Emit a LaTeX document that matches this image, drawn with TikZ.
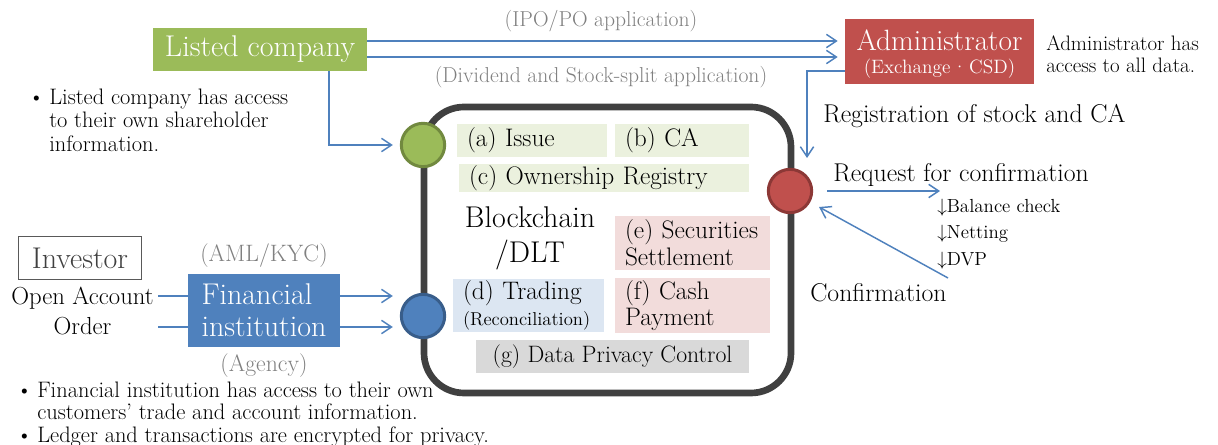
\documentclass[tikz,border=0pt]{standalone}
\usepackage{fontspec}
\usetikzlibrary{arrows.meta}
\definecolor{cgreen}{HTML}{9BBB59}
\definecolor{cgreenD}{HTML}{71893F}
\definecolor{cred}{HTML}{C0504D}
\definecolor{credD}{HTML}{8C3836}
\definecolor{cblue}{HTML}{4F81BD}
\definecolor{cblueD}{HTML}{385D8A}
\definecolor{lgreen}{HTML}{EBF1DE}
\definecolor{lred}{HTML}{F2DCDB}
\definecolor{lblue}{HTML}{DCE6F2}
\definecolor{lgray}{HTML}{D9D9D9}
\definecolor{tgray}{HTML}{808080}
\definecolor{dgray}{HTML}{404040}
\definecolor{bgray}{HTML}{595959}
\newcommand\myBig{\fontsize{22.5}{26}\selectfont}
\newcommand\myFin{\fontsize{22.5}{24}\selectfont}
\newcommand\myAdm{\fontsize{22}{24}\selectfont}
\newcommand\myAdmSub{\fontsize{14.5}{17}\selectfont}
\newcommand\myGray{\fontsize{16.2}{19}\selectfont}
\newcommand\myAg{\fontsize{17.8}{20}\selectfont}
\newcommand\myNote{\fontsize{15.7}{16.5}\selectfont}
\newcommand\myBul{\fontsize{16.8}{17.6}\selectfont}
\newcommand\myBulB{\fontsize{16.8}{16.1}\selectfont}
\newcommand\myMed{\fontsize{19.3}{22}\selectfont}
\newcommand\myBox{\fontsize{19}{20}\selectfont}
\newcommand\myBoxG{\fontsize{17.8}{20}\selectfont}
\newcommand\mySmall{\fontsize{14}{15}\selectfont}
\newcommand\myOpen{\fontsize{18.5}{20}\selectfont}
\newcommand\myList{\fontsize{14.2}{20}\selectfont}
\begin{document}
\begin{tikzpicture}[x=0.75pt,y=-0.75pt,
  arr/.style={draw=cblue, line width=1.1pt, -{Straight Barb[length=7.5pt,width=10pt]}},
  ln/.style={draw=cblue, line width=1.1pt},
  txt/.style={inner sep=0pt},
  solid/.style={rectangle, inner sep=0pt, text=white},
  lbox/.style={rectangle, inner xsep=7.5pt, inner ysep=0pt, align=left, font=\myBox},
  cbox/.style={rectangle, inner sep=0pt, font=\myBoxG},
  dot/.style={circle, line width=2.25pt, minimum size=32.5pt, inner sep=0pt}]
\useasboundingbox (0,0) rectangle (1218,445);

% blockchain frame
\node[draw=dgray, line width=5pt, rounded corners=30pt, minimum width=275.25pt, minimum height=214.5pt, inner sep=0pt] (chain) at (607.5,250) {};

% top boxes
\node[solid, fill=cgreen, minimum width=160.5pt, minimum height=32.25pt, font=\myBig] (lc) at (260,49.5) {Listed company};
\node[solid, fill=cred, minimum width=141.75pt, minimum height=48.75pt] (admin) at (939.5,51.5) {};
\node[txt, anchor=base, text=white, font=\myAdm] (admtitle) at (939.5,51) {Administrator};
\node[txt, anchor=base, text=white, font=\myAdmSub] (admsub) at (939.5,74) {(Exchange\kern1.5pt·\kern1.5pt CSD)};
\node[txt, anchor=north west, font=\myNote] (admnote) at (1046,34.6) {\begin{tabular}{@{}l@{}}Administrator has\\access to all data.\end{tabular}};

\node[txt, anchor=base, text=tgray, font=\myGray] (ipo) at (601,27) {(IPO/PO application)};
\node[txt, anchor=base, text=tgray, font=\myGray] (div) at (601,83) {(Dividend and Stock-split application)};
\node[txt, anchor=base west, font=\myMed] (reg) at (823,123) {Registration of stock and CA};

\node[txt, anchor=north west, font=\myBul] (lcnote) at (28,87.6) {\begin{tabular}{@{}p{15.75pt}@{}l@{}}\textbullet & Listed company has access\\ & to their own shareholder\\ & information.\end{tabular}};

% inner boxes
\node[lbox, fill=lgreen, minimum height=24.75pt, text width=97.5pt] (issue) at (532,140.5) {(a) Issue};
\node[lbox, fill=lgreen, minimum height=24.75pt, text width=85.5pt] (ca) at (682,140.5) {(b) CA};
\node[lbox, fill=lgreen, minimum height=21pt, text width=202.5pt] (own) at (604,178) {(c) Ownership Registry};
\node[align=center, font=\myBig] (dlt) at (530,238) {Blockchain\\/DLT};
\node[lbox, fill=lred, minimum height=40.5pt, text width=101.25pt] (sec) at (692.5,243) {(e) Securities\\Settlement};
\node[lbox, fill=lred, minimum height=41.25pt, text width=101.25pt] (cash) at (692.5,305.5) {(f) Cash\\Payment};
\node[lbox, fill=lblue, minimum height=39.75pt, text width=98.25pt] (trade) at (528.5,305.5) {(d) Trading\\{\mySmall (Reconciliation)}};
\node[cbox, fill=lgray, minimum width=204.75pt, minimum height=24.75pt] (priv) at (612.5,356.5) {(g) Data Privacy Control};

% circles
\node[dot, fill=cgreen, draw=cgreenD] (green) at (423,145) {};
\node[dot, fill=cblue, draw=cblueD] (blue) at (423,316) {};
\node[dot, fill=cred, draw=credD] (red) at (790,191) {};

% investor side
\node[draw=bgray, line width=0.75pt, minimum width=92.25pt, minimum height=32.25pt, inner sep=0pt, font=\myBig, text=dgray] (inv) at (80,258.5) {Investor};
\node[anchor=base, font=\myOpen] (open) at (82.5,305) {Open Account};
\node[anchor=base, font=\myOpen] (order) at (82.5,335) {Order};
\node[solid, fill=cblue, align=left, font=\myFin, minimum width=114pt, minimum height=54.75pt] (fin) at (264,310.5) {Financial\\institution};
\node[txt, anchor=base, text=tgray, font=\myAg] (aml) at (264,262) {(AML/KYC)};
\node[txt, anchor=base, text=tgray, font=\myAg] (agency) at (264,372) {(Agency)};
\node[txt, anchor=north west, font=\myBulB] (finnote) at (16,382) {\begin{tabular}{@{}p{15.75pt}@{}l@{}}\textbullet & Financial institution has access to their own\\ & customers' trade and account information.\\ \textbullet & Ledger and transactions are encrypted for privacy.\end{tabular}};

% right side texts
\node[txt, anchor=base west, font=\myMed] (req) at (833,182) {Request for confirmation};
\node[txt, anchor=north west, font=\myList] (steps) at (937,193.3) {\begin{tabular}{@{}l@{}}$\downarrow$Balance check\\$\downarrow$Netting\\$\downarrow$DVP\end{tabular}};
\node[txt, anchor=base west, font=\myMed] (conf) at (810,302) {Confirmation};

% connectors
\coordinate (regtip) at (807,158);
\coordinate (reqtip) at (940,191);
\coordinate (confstart) at (948,278);
\draw[arr, shorten >=5.25pt] (lc.east |- 0,41) -- (admin.west |- 0,41);
\draw[arr, shorten >=5.25pt] (lc.east |- 0,57) -- (admin.west |- 0,57);
\draw[arr] (admin.west |- 0,71) -| (regtip);
\draw[arr, shorten >=5.25pt] (lc.south -| 329,0) |- (green.west);
\draw[ln] (open.east |- 0,296) -- (fin.west |- 0,296);
\draw[ln] (open.east |- 0,327) -- (fin.west |- 0,327);
\draw[arr, shorten >=5.25pt] (fin.east |- 0,296) -- (blue.west |- 0,296);
\draw[arr, shorten >=5.25pt] (fin.east |- 0,327) -- (blue.west |- 0,327);
\draw[arr, shorten <=10.5pt] (red.east) -- (reqtip);
\draw[arr, shorten >=7.5pt] (confstart) -- (red);
\end{tikzpicture}
\end{document}
